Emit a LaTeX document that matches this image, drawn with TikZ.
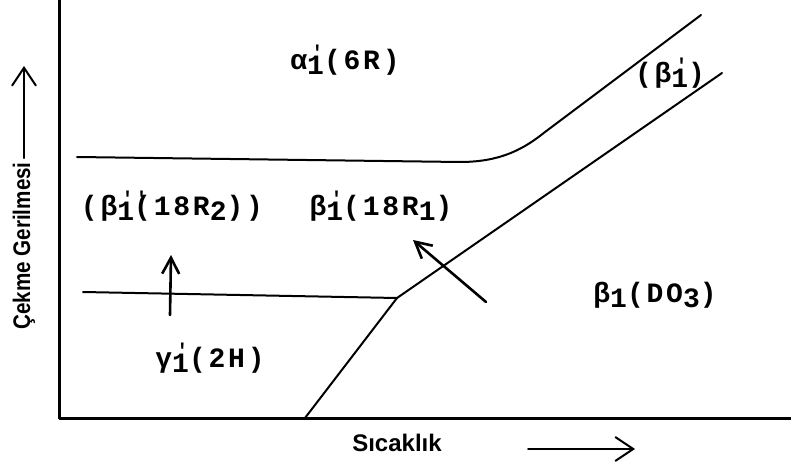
\documentclass[tikz,border=0pt]{standalone}
\usepackage{fontspec}
\setsansfont{Liberation Sans}
\newfontfamily\typfont[LetterSpace=10]{Liberation Mono}
\usetikzlibrary{arrows.meta}
% index: optional prime on top, lowered digit below
\newcommand\ix[2][]{\makebox[0pt][l]{\hspace{0.15em}\raisebox{10pt}{\fontsize{20}{20}\selectfont#1}}\raisebox{-5pt}{#2}}
\begin{document}
\begin{tikzpicture}[x=1pt,y=-1pt,line cap=round,line join=round]
	\useasboundingbox (0,0) rectangle (791,468);
	\tikzset{faz/.style={font=\fontsize{28}{30}\typfont\bfseries,anchor=base,inner sep=0pt},
		sinir/.style={line width=2pt},
		ok/.style={line width=2.6pt,-{Straight Barb[length=16pt,width=17pt]}},
		eksen/.style={line width=2pt,-{Straight Barb[length=18pt,width=24pt]}},
		baslik/.style={font=\fontsize{24}{26}\sffamily\bfseries,inner sep=0pt}}
	% axes
	\coordinate (O) at (59,418);
	\draw[line width=3pt] (59,0) -- (O) -- (791,418);
	% phase boundaries
	\coordinate (T) at (397,298);
	\draw[sinir] (77,157) -- (460,162) .. controls (502,162) and (525,148) .. (545,132) -- (701,15);
	\draw[sinir] (83,292) -- (T) -- (722,73);
	\draw[sinir] (T) -- (305,418);
	% arrows
	\draw[ok] (170,315) -- (171,255);
	\draw[ok] (486,302) -- (413,240);
	% phases
	\node[faz] (alfa) at (345,70) {α\ix[']{1}(6R)};
	\node[faz] (betaa) at (670,83) {(β\ix[']{1})};
	\node[faz] (betab) at (172,215) {(β\ix['']{1}(18R\ix{2}))};
	\node[faz] (betac) at (381,215) {β\ix[']{1}(18R\ix{1})};
	\node[faz] (betad) at (655,302) {β\ix{1}(DO\ix{3})};
	\node[faz] (gama) at (210,367) {γ\ix[']{1}(2H)};
	% axis titles
	\node[baslik,rotate=90] (ylab) at (24,246) {\scalebox{0.86}[1]{Çekme Gerilmesi}};
	\coordinate (ytip) at (24,66);
	\draw[eksen] (ylab.east) ++(0,-4) -- (ytip);
	\node[baslik] (xlab) at (397,443) {Sıcaklık};
	\coordinate (xa) at (528,449);
	\coordinate (xb) at (635,449);
	\draw[eksen] (xa) -- (xb);
\end{tikzpicture}
\end{document}
